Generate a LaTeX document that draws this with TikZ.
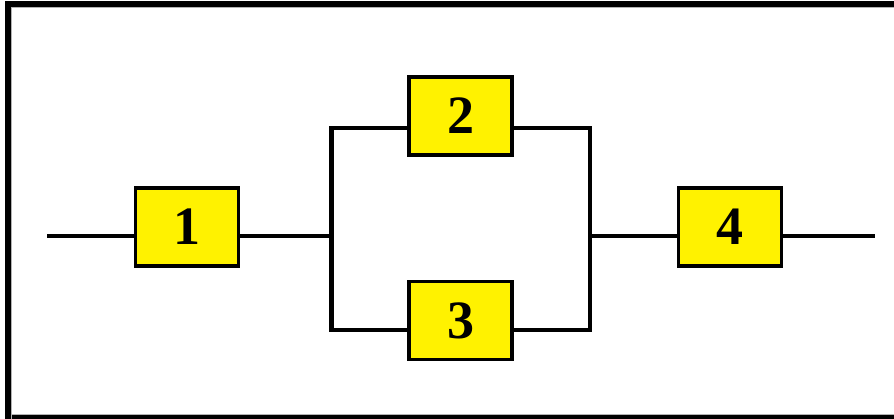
\documentclass[tikz,border=0pt]{standalone}
\usepackage{fontspec}
\setmainfont{Liberation Serif}
\begin{document}
\begin{tikzpicture}[x=1pt,y=-1pt,
  blk/.style={draw=black,line width=3.5pt,fill=yellow,minimum width=103pt,minimum height=78pt,inner sep=0pt,font=\fontsize{54}{54}\selectfont\bfseries},
  wire/.style={line width=4pt},
  vwire/.style={line width=4.5pt}]
\useasboundingbox (0,0) rectangle (894,419);
\clip (0,0) rectangle (894,419);
\draw[line width=6pt] (902,4.5) -- (8,4.5) -- (8,418) -- (902,418);
\draw[gray!60,line width=1pt] (11.5,420) -- (11.5,8) -- (902,8);
\draw[gray!60,line width=1pt] (11.5,414.5) -- (902,414.5);
\node[blk] (n1) at (187,227) {1};
\node[blk] (n2) at (460.5,116) {2};
\node[blk] (n3) at (460.5,320.5) {3};
\node[blk] (n4) at (730,227) {4};
\coordinate (in) at (47,236);
\coordinate (out) at (875,236);
\coordinate (sl) at (331.5,236);
\coordinate (sr) at (590,236);
\draw[wire] (in) -- (in -| n1.west);
\draw[wire] (n1.east |- sl) -- (sl);
\draw[vwire] (n2.west |- 0,128) -| (331.5,330) -- (n3.west |- 0,330);
\draw[vwire] (n2.east |- 0,128) -| (590,330) -- (n3.east |- 0,330);
\draw[wire] (sr) -- (sr -| n4.west);
\draw[wire] (n4.east |- out) -- (out);
\end{tikzpicture}
\end{document}
